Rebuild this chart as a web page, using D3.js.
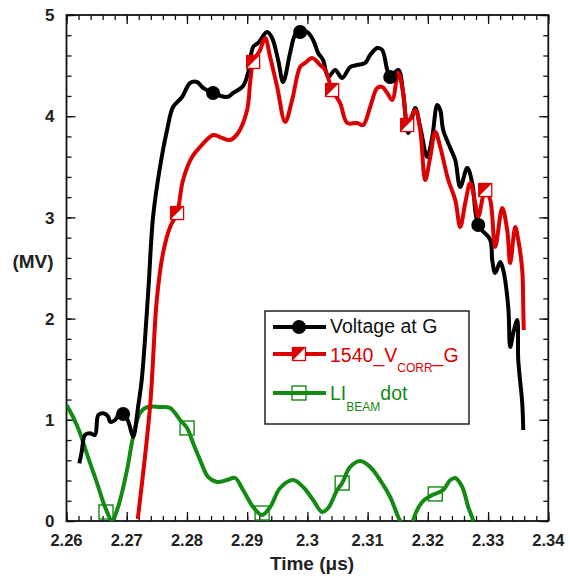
<!DOCTYPE html>
<html>
<head>
<meta charset="utf-8">
<script src="https://cdn.jsdelivr.net/npm/d3@7/dist/d3.min.js"></script>
<style>
  body { margin: 0; background: #fff; }
  text { font-family: "Liberation Sans", Arial, Helvetica, sans-serif; }
</style>
</head>
<body>
<div id="chart"></div>
<script>
// values: [time (us), MV]
const voltageAtG = [
  [2.26213,0.570],[2.26253,0.685],[2.26307,0.850],[2.26390,0.866],[2.26473,0.850],
  [2.26528,1.047],[2.26611,1.064],[2.26694,1.031],[2.26723,0.981],[2.26806,0.998],
  [2.26861,1.047],[2.26944,1.064],[2.27027,0.981],[2.27083,0.866],[2.27110,0.833],
  [2.27193,1.146],[2.27249,1.393],[2.27359,2.283],[2.27437,3.004],[2.27553,3.498],
  [2.27670,3.864],[2.27769,4.091],[2.27919,4.190],[2.28052,4.328],[2.28168,4.338],
  [2.28268,4.279],[2.28434,4.229],[2.28667,4.190],[2.28766,4.229],[2.28932,4.298],
  [2.29015,4.427],[2.29099,4.684],[2.29182,4.723],[2.29331,4.832],[2.29414,4.773],
  [2.29514,4.555],[2.29597,4.338],[2.29713,4.625],[2.29796,4.802],[2.29879,4.832],
  [2.29996,4.832],[2.30095,4.753],[2.30178,4.625],[2.30261,4.555],[2.30345,4.387],
  [2.30461,4.457],[2.30577,4.377],[2.30710,4.486],[2.30826,4.506],[2.30959,4.526],
  [2.31042,4.605],[2.31159,4.674],[2.31242,4.654],[2.31325,4.457],[2.31375,4.387],
  [2.31508,4.457],[2.31591,4.229],[2.31674,3.834],[2.31790,4.081],[2.31873,3.893],
  [2.31990,3.597],[2.32073,3.794],[2.32156,4.111],[2.32206,4.061],[2.32255,3.864],
  [2.32372,3.686],[2.32455,3.567],[2.32538,3.300],[2.32654,3.488],[2.32737,3.340],
  [2.32837,2.925],[2.33036,2.777],[2.33069,2.579],[2.33119,2.451],[2.33202,2.559],
  [2.33252,2.480],[2.33335,2.115],[2.33368,1.719],[2.33418,1.858],[2.33484,1.986],
  [2.33501,1.591],[2.33567,1.166],[2.33584,0.899]
];
const voltageMarks = [[2.26940,1.057],[2.28434,4.229],[2.29879,4.832],[2.31375,4.387],[2.32837,2.925]];

const corrG = [
  [2.27183,0.020],[2.27387,1.129],[2.27499,2.184],[2.27603,2.648],[2.27720,2.905],
  [2.27836,3.043],[2.27935,3.370],[2.28085,3.597],[2.28218,3.696],[2.28434,3.814],
  [2.28550,3.794],[2.28716,3.765],[2.28849,3.834],[2.28999,4.061],[2.29049,4.328],
  [2.29099,4.536],[2.29215,4.654],[2.29298,4.773],[2.29381,4.585],[2.29498,4.289],
  [2.29631,3.943],[2.29747,4.160],[2.29879,4.486],[2.29963,4.526],[2.30079,4.575],
  [2.30212,4.506],[2.30295,4.457],[2.30411,4.259],[2.30544,4.130],[2.30660,3.933],
  [2.30826,3.933],[2.30926,3.913],[2.31042,4.091],[2.31159,4.279],[2.31242,4.289],
  [2.31325,4.229],[2.31408,4.160],[2.31508,4.427],[2.31574,4.289],[2.31624,4.032],
  [2.31657,3.913],[2.31790,4.061],[2.31873,3.864],[2.31956,3.370],[2.32040,3.597],
  [2.32123,3.844],[2.32206,3.696],[2.32339,3.370],[2.32455,3.172],[2.32538,2.905],
  [2.32621,3.142],[2.32704,3.340],[2.32787,3.142],[2.32837,3.004],[2.32953,3.271],
  [2.33036,3.172],[2.33119,2.708],[2.33235,3.093],[2.33318,2.875],[2.33368,2.549],
  [2.33451,2.905],[2.33501,2.777],[2.33567,2.480],[2.33584,2.115],[2.33592,1.887]
];
const corrMarks = [[2.27836,3.043],[2.29099,4.536],[2.30411,4.259],[2.31657,3.913],[2.32953,3.271]];

const beamDot = [
  [2.26000,1.146],[2.26108,1.028],[2.26224,0.870],[2.26357,0.632],[2.26507,0.375],
  [2.26640,0.138],[2.26756,0.010],[2.26856,0.138],[2.27005,0.504],[2.27105,0.830],
  [2.27221,1.067],[2.27337,1.126],[2.27553,1.126],[2.27720,1.117],[2.27886,0.998],
  [2.28002,0.919],[2.28102,0.771],[2.28218,0.603],[2.28351,0.435],[2.28500,0.385],
  [2.28667,0.405],[2.28800,0.425],[2.28932,0.306],[2.29099,0.138],[2.29248,0.059],
  [2.29381,0.138],[2.29547,0.326],[2.29763,0.405],[2.29929,0.336],[2.30095,0.208],
  [2.30245,0.089],[2.30345,0.128],[2.30494,0.306],[2.30577,0.375],[2.30710,0.534],
  [2.30876,0.593],[2.31042,0.534],[2.31208,0.405],[2.31375,0.237],[2.31508,0.040],
  [2.31574,-0.040],[2.31657,-0.240],[2.31720,-0.140],[2.31757,0.010],[2.31906,0.188],
  [2.32073,0.257],[2.32255,0.306],[2.32372,0.405],[2.32455,0.425],[2.32571,0.336],
  [2.32671,0.138],[2.32754,0.000],[2.32804,-0.140]
];
const beamMarks = [[2.26656,0.089],[2.28002,0.919],[2.29248,0.079],[2.30577,0.375],[2.32123,0.267]];

const xTicks = [2.26, 2.27, 2.28, 2.29, 2.30, 2.31, 2.32, 2.33, 2.34];
const xTickLabels = ["2.26", "2.27", "2.28", "2.29", "2.3", "2.31", "2.32", "2.33", "2.34"];
const yTicks = [0, 1, 2, 3, 4, 5];
const yTickLabels = ["0", "1", "2", "3", "4", "5"];

const width = 570, height = 585;
const pLeft = 66.5, pRight = 548.3, pTop = 15, pBottom = 521;
const RED = "#dd0000", GREEN = "#138a13";

const svg = d3.select("#chart").append("svg")
    .attr("width", width)
    .attr("height", height);

const x = d3.scaleLinear().domain([2.26, 2.34]).range([pLeft, pRight]);
const y = d3.scaleLinear().domain([0, 5]).range([pBottom, pTop]);

const xMinor = d3.range(0, 41).map(i => 2.26 + i * 0.002);
const yMinor = d3.range(0, 26).map(i => i * 0.2);

svg.append("clipPath").attr("id", "plotclip")
  .append("rect")
    .attr("x", pLeft).attr("y", pTop)
    .attr("width", pRight - pLeft).attr("height", pBottom - pTop);

// ticks, all pointing into the plot
function tickAxis(axis, values, size, transform) {
    let g = svg.append("g")
        .attr("transform", transform)
        .call(axis.tickValues(values).tickSize(size).tickFormat(""));
    g.select(".domain").remove();
    g.selectAll("line").attr("stroke", "#111").attr("stroke-width", 1.3);
    return g;
}
tickAxis(d3.axisBottom(x), xMinor, -5, `translate(0,${pBottom})`);
tickAxis(d3.axisBottom(x), xTicks, -9, `translate(0,${pBottom})`);
tickAxis(d3.axisTop(x), xMinor, -5, `translate(0,${pTop})`);
tickAxis(d3.axisTop(x), xTicks, -9, `translate(0,${pTop})`);
tickAxis(d3.axisLeft(y), yMinor, -5, `translate(${pLeft},0)`);
tickAxis(d3.axisLeft(y), yTicks, -9, `translate(${pLeft},0)`);
tickAxis(d3.axisRight(y), yMinor, -5, `translate(${pRight},0)`);
tickAxis(d3.axisRight(y), yTicks, -9, `translate(${pRight},0)`);

svg.append("rect")
    .attr("x", pLeft).attr("y", pTop)
    .attr("width", pRight - pLeft).attr("height", pBottom - pTop)
    .attr("fill", "none")
    .attr("stroke", "#111")
    .attr("stroke-width", 1.8);

// tick labels
svg.append("g").selectAll("text")
    .data(xTicks)
    .enter().append("text")
    .attr("x", d => x(d))
    .attr("y", pBottom + 25)
    .attr("text-anchor", "middle")
    .attr("font-size", 16.5)
    .attr("font-weight", "bold")
    .attr("fill", "#222")
    .text((d, i) => xTickLabels[i]);

svg.append("g").selectAll("text")
    .data(yTicks)
    .enter().append("text")
    .attr("x", pLeft - 12)
    .attr("y", d => y(d))
    .attr("dy", "0.36em")
    .attr("text-anchor", "end")
    .attr("font-size", 17)
    .attr("font-weight", "bold")
    .attr("fill", "#222")
    .text((d, i) => yTickLabels[i]);

svg.append("text")
    .attr("x", 33).attr("y", 268)
    .attr("text-anchor", "middle")
    .attr("font-size", 19)
    .attr("font-weight", "bold")
    .attr("fill", "#222")
    .text("(MV)");

svg.append("text")
    .attr("x", 312).attr("y", 570)
    .attr("text-anchor", "middle")
    .attr("font-size", 19)
    .attr("font-weight", "bold")
    .attr("fill", "#222")
    .text("Time (\u03bcs)");

// curves
let line = d3.line()
    .x(d => x(d[0]))
    .y(d => y(d[1]))
    .curve(d3.curveCatmullRom.alpha(0.5));

let plot = svg.append("g").attr("clip-path", "url(#plotclip)");

function drawLine(data, color) {
    plot.append("path")
        .datum(data)
        .attr("fill", "none")
        .attr("stroke", color)
        .attr("stroke-width", 4)
        .attr("stroke-linejoin", "round")
        .attr("d", line);
}
drawLine(beamDot, GREEN);
drawLine(voltageAtG, "#000");
drawLine(corrG, RED);

function circleMark(g, cx, cy) {
    g.append("circle")
        .attr("cx", cx).attr("cy", cy).attr("r", 7)
        .attr("fill", "#000");
}
function halfSquare(g, cx, cy) {
    let s = 6.5;
    g.append("rect")
        .attr("x", cx - s).attr("y", cy - s)
        .attr("width", 2 * s).attr("height", 2 * s)
        .attr("fill", "#fff");
    g.append("path")
        .attr("d", `M${cx - s},${cy - s}L${cx + s},${cy - s}L${cx - s},${cy + s}Z`)
        .attr("fill", RED);
    g.append("rect")
        .attr("x", cx - s).attr("y", cy - s)
        .attr("width", 2 * s).attr("height", 2 * s)
        .attr("fill", "none")
        .attr("stroke", RED)
        .attr("stroke-width", 1.3);
}
function openSquare(g, cx, cy) {
    let s = 7;
    g.append("rect")
        .attr("x", cx - s).attr("y", cy - s)
        .attr("width", 2 * s).attr("height", 2 * s)
        .attr("fill", "none")
        .attr("stroke", GREEN)
        .attr("stroke-width", 1.4);
}

beamMarks.forEach(d => openSquare(plot, x(d[0]), y(d[1])));
voltageMarks.forEach(d => circleMark(plot, x(d[0]), y(d[1])));
corrMarks.forEach(d => halfSquare(plot, x(d[0]), y(d[1])));

// legend
let legend = svg.append("g");
legend.append("rect")
    .attr("x", 265).attr("y", 311)
    .attr("width", 204).attr("height", 113)
    .attr("fill", "#fff")
    .attr("stroke", "#222")
    .attr("stroke-width", 1.5);

const rows = [
    { y: 327, color: "#000", mark: circleMark },
    { y: 354, color: RED, mark: halfSquare },
    { y: 393, color: GREEN, mark: openSquare }
];
rows.forEach(r => {
    legend.append("line")
        .attr("x1", 273).attr("x2", 326)
        .attr("y1", r.y).attr("y2", r.y)
        .attr("stroke", r.color)
        .attr("stroke-width", 4);
    r.mark(legend, 299, r.y);
});

legend.append("text")
    .attr("x", 330).attr("y", 333)
    .attr("font-size", 19.5)
    .attr("fill", "#111")
    .text("Voltage at G");

let t2 = legend.append("text")
    .attr("x", 330).attr("y", 362)
    .attr("font-size", 19.5)
    .attr("fill", RED);
t2.append("tspan").text("1540_V");
t2.append("tspan").attr("font-size", 12).attr("dy", 10).text("CORR");
t2.append("tspan").attr("dy", -10).text("_G");

let t3 = legend.append("text")
    .attr("x", 330).attr("y", 400)
    .attr("font-size", 19.5)
    .attr("fill", GREEN);
t3.append("tspan").text("LI");
t3.append("tspan").attr("font-size", 12).attr("dy", 11).text("BEAM");
t3.append("tspan").attr("dy", -11).text("dot");
</script>
</body>
</html>
